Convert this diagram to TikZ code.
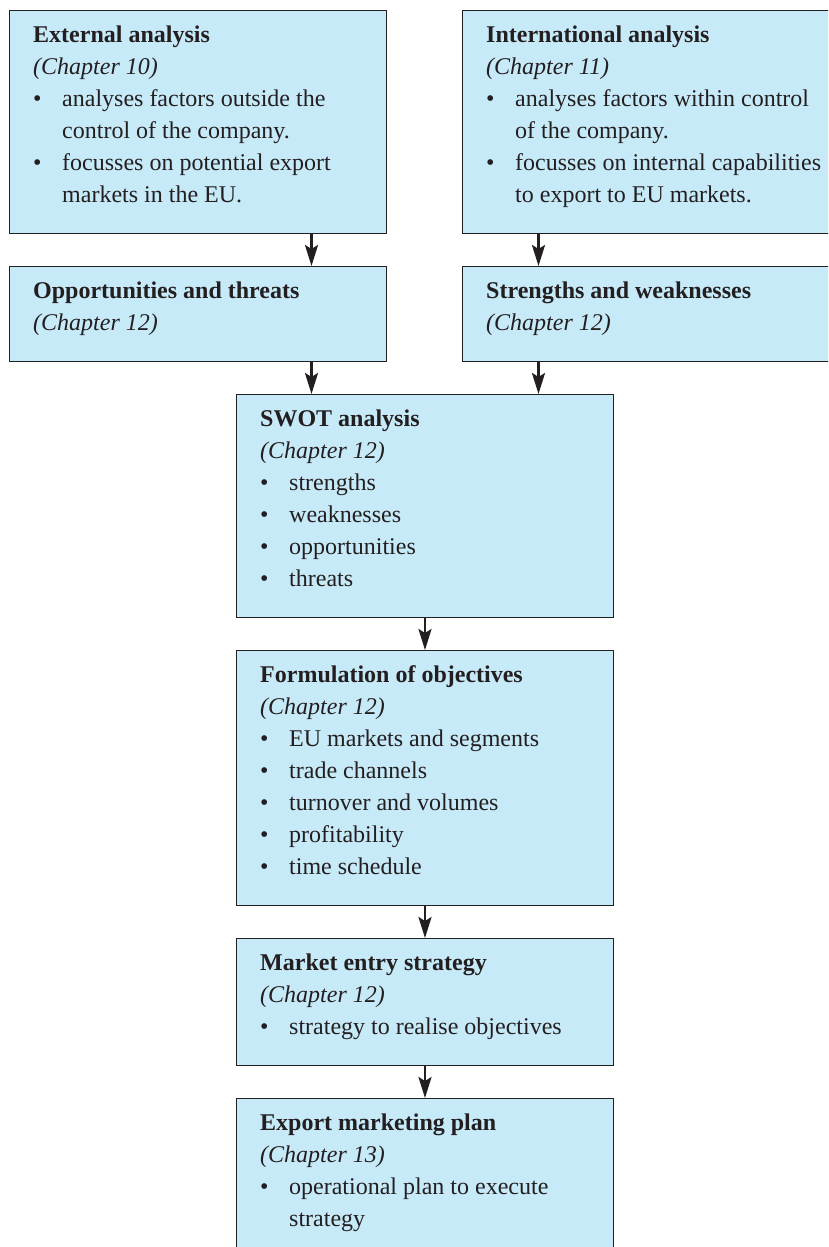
\documentclass[tikz,border=0pt]{standalone}
\usepackage{fontspec}
\setmainfont{Liberation Serif}
\usetikzlibrary{arrows.meta,calc}
\definecolor{boxfill}{RGB}{199,234,249}
\definecolor{ink}{RGB}{35,31,32}
\newcommand\bul{\makebox[29pt][l]{•}}
\newcommand\ind{\hspace*{29pt}}
\tikzset{
  panel/.style={draw=ink, line width=1pt, fill=boxfill, anchor=north west, inner sep=0pt, minimum width=377pt},
  body/.style={anchor=north west, inner sep=0pt, align=left, text=ink, font=\fontsize{24}{32}\selectfont},
  flow/.style={draw=ink, line width=2.5pt, -{Stealth[length=21pt,width=13pt,inset=4pt]}}
}
\begin{document}
\begin{tikzpicture}[x=1pt,y=-1pt]
\clip (0,0) rectangle (828,1247);
\node[panel, minimum height=223pt] (A) at (9,10) {};
\node[panel, minimum height=223pt] (B) at (462,10) {};
\node[panel, minimum height=95pt] (C) at (9,266) {};
\node[panel, minimum height=95pt] (D) at (462,266) {};
\node[panel, minimum height=223pt] (E) at (236,394) {};
\node[panel, minimum height=255pt] (F) at (236,650) {};
\node[panel, minimum height=127pt] (G) at (236,938) {};
\node[panel, minimum height=200pt] (H) at (236,1098) {};

\node[body] (At) at ($(A.north west)+(24,9.6)$) {\strut\textbf{External analysis}\\\textit{(Chapter 10)}\\\bul analyses factors outside the\\\ind control of the company.\\\bul focusses on potential export\\\ind markets in the EU.};
\node[body] (Bt) at ($(B.north west)+(24,9.6)$) {\strut\textbf{International analysis}\\\textit{(Chapter 11)}\\\bul analyses factors within control\\\ind of the company.\\\bul focusses on internal capabilities\\\ind to export to EU markets.};
\node[body] (Ct) at ($(C.north west)+(24,9.6)$) {\strut\textbf{Opportunities and threats}\\\textit{(Chapter 12)}};
\node[body] (Dt) at ($(D.north west)+(24,9.6)$) {\strut\textbf{Strengths and weaknesses}\\\textit{(Chapter 12)}};
\node[body] (Et) at ($(E.north west)+(24,9.6)$) {\strut\textbf{SWOT analysis}\\\textit{(Chapter 12)}\\\bul strengths\\\bul weaknesses\\\bul opportunities\\\bul threats};
\node[body] (Ft) at ($(F.north west)+(24,9.6)$) {\strut\textbf{Formulation of objectives}\\\textit{(Chapter 12)}\\\bul EU markets and segments\\\bul trade channels\\\bul turnover and volumes\\\bul profitability\\\bul time schedule};
\node[body] (Gt) at ($(G.north west)+(24,9.6)$) {\strut\textbf{Market entry strategy}\\\textit{(Chapter 12)}\\\bul strategy to realise objectives};
\node[body] (Ht) at ($(H.north west)+(24,9.6)$) {\strut\textbf{Export marketing plan}\\\textit{(Chapter 13)}\\\bul operational plan to execute\\\ind strategy};

\draw[flow] ([xshift=113.5pt]A.south) -- ([xshift=113.5pt]C.north);
\draw[flow] ([xshift=-112.5pt]B.south) -- ([xshift=-112.5pt]D.north);
\draw[flow] ([xshift=113.5pt]C.south) -- ([xshift=-113.5pt]E.north);
\draw[flow] ([xshift=-112.5pt]D.south) -- ([xshift=113.5pt]E.north);
\draw[flow] (E.south) -- (F.north);
\draw[flow] (F.south) -- (G.north);
\draw[flow] (G.south) -- (H.north);
\end{tikzpicture}
\end{document}
